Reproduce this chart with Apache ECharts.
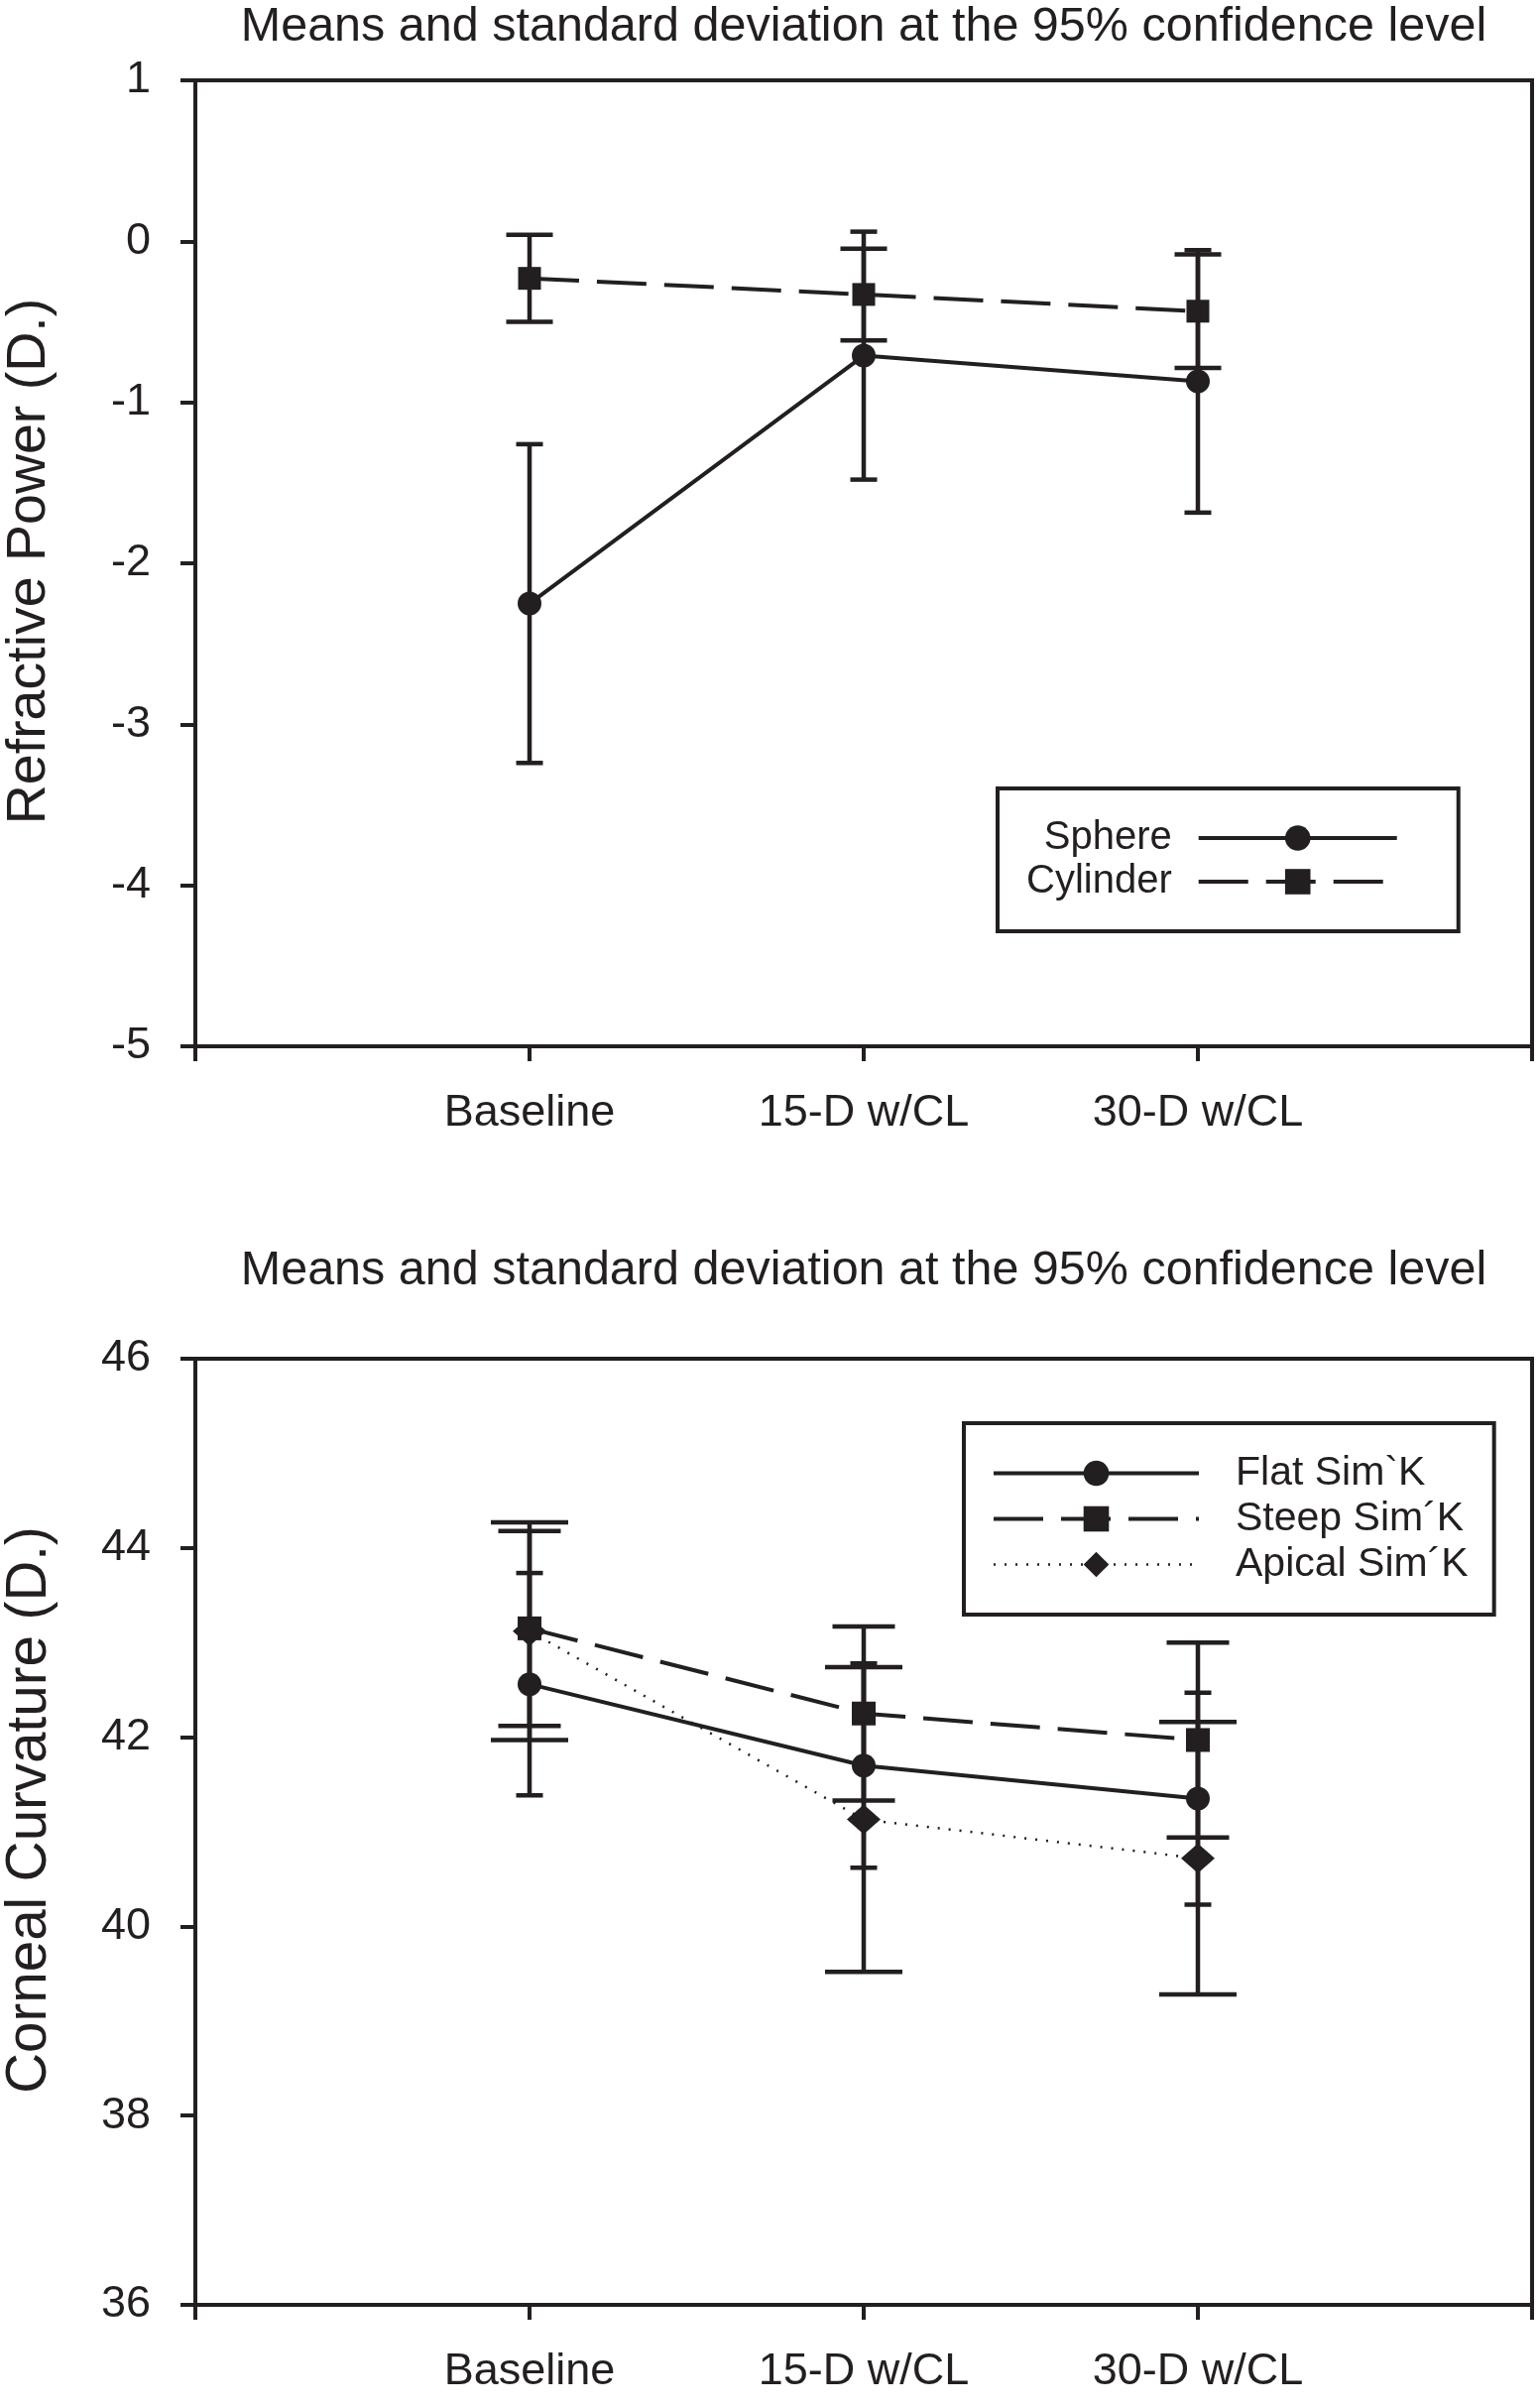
<!DOCTYPE html>
<html>
<head>
<meta charset="utf-8">
<script src="https://cdn.jsdelivr.net/npm/echarts@6/dist/echarts.min.js"></script>
<style>
html,body{margin:0;padding:0;background:#fff;}
#chart{width:1553px;height:2428px;}
</style>
</head>
<body>
<div id="chart"></div>
<script>
// ---- Data ----
const categories = ['Baseline', '15-D w/CL', '30-D w/CL'];
const titleText = 'Means and standard deviation at the 95% confidence level';

// Top panel: refractive power (D.)
const sphereMean = [-2.25, -0.71, -0.87];
const sphereErr  = [0.99, 0.77, 0.815];
const cylinderMean = [-0.23, -0.33, -0.434];
const cylinderErr  = [0.27, 0.285, 0.353];
const topTicks = { min: -5, max: 1, interval: 1 };

// Bottom panel: corneal curvature (D.)
const flatMean = [42.56, 41.70, 41.35];
const flatErr  = [1.175, 1.08, 1.12];
const steepMean = [43.15, 42.25, 41.97];
const steepErr  = [1.03, 0.92, 1.03];
const apicalMean = [43.12, 41.13, 40.72];
const apicalErr  = [1.15, 1.61, 1.44];
const bottomTicks = { min: 36, max: 46, interval: 2 };

// ---- Styling ----
const INK = '#231f20';
const FONT = '"Liberation Sans", Arial, Helvetica, sans-serif';

function pts(means) { return means.map((v, i) => [i + 1, v]); }
function errPts(means, errs) { return means.map((v, i) => [i + 1, v - errs[i], v + errs[i]]); }

function errRender(capW) {
  return function (params, api) {
    const x = api.value(0);
    const lo = api.coord([x, api.value(1)]);
    const hi = api.coord([x, api.value(2)]);
    const st = { stroke: INK, lineWidth: 4.5 };
    return {
      type: 'group',
      children: [
        { type: 'line', shape: { x1: hi[0], y1: hi[1], x2: lo[0], y2: lo[1] }, style: st },
        { type: 'line', shape: { x1: hi[0] - capW / 2, y1: hi[1], x2: hi[0] + capW / 2, y2: hi[1] }, style: st },
        { type: 'line', shape: { x1: lo[0] - capW / 2, y1: lo[1], x2: lo[0] + capW / 2, y2: lo[1] }, style: st }
      ]
    };
  };
}

function xAxisCfg(gridIndex) {
  return {
    gridIndex, type: 'value', min: 0, max: 4, interval: 1,
    axisLine: { show: true, onZero: false, lineStyle: { color: INK, width: 4 } },
    axisTick: { show: true, length: 15, lineStyle: { color: INK, width: 4 } },
    axisLabel: {
      margin: 45, color: INK, fontFamily: FONT, fontSize: 45,
      formatter: v => categories[v - 1] || ''
    },
    splitLine: { show: false }
  };
}
function yAxisCfg(gridIndex, t) {
  return {
    gridIndex, type: 'value', min: t.min, max: t.max, interval: t.interval,
    axisLine: { show: true, onZero: false, lineStyle: { color: INK, width: 4 } },
    axisTick: { show: true, length: 15, lineStyle: { color: INK, width: 4 } },
    axisLabel: { margin: 45, color: INK, fontFamily: FONT, fontSize: 45 },
    splitLine: { show: false }
  };
}

function lineSeries(name, ax, means, symbol, size, lineType, lineWidth) {
  return {
    name, type: 'line', xAxisIndex: ax, yAxisIndex: ax, data: pts(means),
    symbol, symbolSize: size, showAllSymbol: true,
    itemStyle: { color: INK, borderWidth: 0 },
    lineStyle: { color: INK, width: lineWidth, type: lineType },
    animation: false, z: 5
  };
}
function errSeries(name, ax, means, errs, capW) {
  return {
    name, type: 'custom', xAxisIndex: ax, yAxisIndex: ax,
    data: errPts(means, errs), renderItem: errRender(capW),
    animation: false, z: 3, silent: true
  };
}

const chart = echarts.init(document.getElementById('chart'), null, { renderer: 'canvas' });
chart.setOption({
  backgroundColor: '#fff',
  animation: false,
  grid: [
    { left: 197, top: 81, width: 1348, height: 974, show: true, borderColor: INK, borderWidth: 4, backgroundColor: 'transparent' },
    { left: 197, top: 1370, width: 1348, height: 954, show: true, borderColor: INK, borderWidth: 4, backgroundColor: 'transparent' }
  ],
  xAxis: [xAxisCfg(0), xAxisCfg(1)],
  yAxis: [yAxisCfg(0, topTicks), yAxisCfg(1, bottomTicks)],
  legend: [
    {
      data: [
        { name: 'Sphere', lineStyle: { width: 4 } },
        { name: 'Cylinder', lineStyle: { width: 4 } }
      ],
      orient: 'vertical', align: 'right',
      left: 1006, top: 795, itemWidth: 200, itemHeight: 32, itemGap: 4,
      padding: [30, 60, 30, 29], borderColor: INK, borderWidth: 4, backgroundColor: '#fff',
      selectedMode: false,
      textStyle: { color: INK, fontFamily: FONT, fontSize: 40, padding: [0, 22, 0, 0] }
    },
    {
      data: [
        { name: 'Flat Sim`K', lineStyle: { width: 4 } },
        { name: 'Steep Sim\u00B4K', lineStyle: { width: 4 } },
        { name: 'Apical Sim\u00B4K', lineStyle: { width: 2.5 } }
      ],
      orient: 'vertical', align: 'left',
      left: 972, top: 1435, itemWidth: 207, itemHeight: 32, itemGap: 5,
      padding: [30, 26, 30, 28], borderColor: INK, borderWidth: 4, backgroundColor: '#fff',
      selectedMode: false,
      textStyle: { color: INK, fontFamily: FONT, fontSize: 41, padding: [0, 0, 0, 32] }
    }
  ],
  graphic: [
    { type: 'text', x: 871, y: 28, style: { text: titleText, fill: INK, font: '48.5px ' + FONT, textAlign: 'center', textVerticalAlign: 'middle' } },
    { type: 'text', x: 871, y: 1282, style: { text: titleText, fill: INK, font: '48.5px ' + FONT, textAlign: 'center', textVerticalAlign: 'middle' } },
    { type: 'text', x: 30, y: 566, rotation: Math.PI / 2, style: { text: 'Refractive Power (D.)', fill: INK, font: '55.5px ' + FONT, textAlign: 'center', textVerticalAlign: 'middle' } },
    { type: 'text', x: 30, y: 1825, rotation: Math.PI / 2, style: { text: 'Corneal Curvature (D.)', fill: INK, font: '56.5px ' + FONT, textAlign: 'center', textVerticalAlign: 'middle' } }
  ],
  series: [
    errSeries('Sphere err', 0, sphereMean, sphereErr, 27),
    errSeries('Cylinder err', 0, cylinderMean, cylinderErr, 47),
    lineSeries('Sphere', 0, sphereMean, 'circle', 24, 'solid', 4),
    lineSeries('Cylinder', 0, cylinderMean, 'rect', 23, [50, 18], 4),
    errSeries('Flat err', 1, flatMean, flatErr, 27),
    errSeries('Steep err', 1, steepMean, steepErr, 63),
    errSeries('Apical err', 1, apicalMean, apicalErr, 78),
    lineSeries('Flat Sim`K', 1, flatMean, 'circle', 24, 'solid', 4),
    lineSeries('Steep Sim\u00B4K', 1, steepMean, 'rect', 24, [50, 18], 4),
    lineSeries('Apical Sim\u00B4K', 1, apicalMean, 'diamond', [34, 30], [2, 9], 2.5)
  ]
});
</script>
</body>
</html>
